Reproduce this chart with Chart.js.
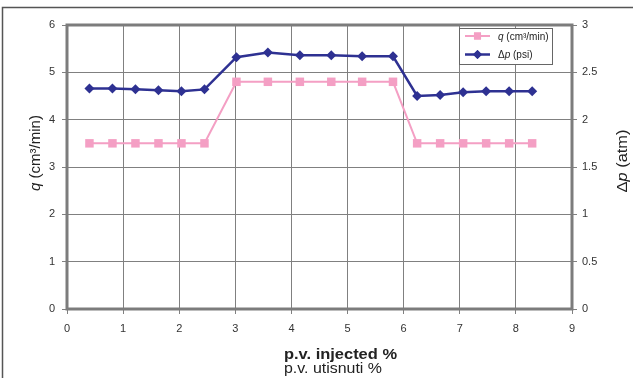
<!DOCTYPE html>
<html>
<head>
<meta charset="utf-8">
<script src="https://cdn.jsdelivr.net/npm/chart.js@4.4.1/dist/chart.umd.min.js"></script>
<style>
  html,body{margin:0;padding:0;background:#fff;}
  #wrap{width:633px;height:378px;position:relative;}
</style>
</head>
<body>
<div id="wrap"><canvas id="c" width="633" height="378"></canvas></div>
<script>
// pore volumes injected (%)
const pvInjected = [0.4,0.81,1.22,1.63,2.04,2.45,3.02,3.58,4.15,4.71,5.26,5.81,6.24,6.65,7.06,7.47,7.88,8.29];
// flow rate q (cm3/min), left axis
const qRate = [3.5,3.5,3.5,3.5,3.5,3.5,4.8,4.8,4.8,4.8,4.8,4.8,3.5,3.5,3.5,3.5,3.5,3.5];
// pressure drop, right axis
const dP = [2.33,2.33,2.32,2.31,2.30,2.32,2.66,2.71,2.68,2.68,2.67,2.67,2.25,2.26,2.29,2.30,2.30,2.30];

const pink = '#f49fc4';
const blue = '#2e3192';
const gridCol = '#808080';
const tickFont = {family:'"Liberation Sans", Arial, sans-serif', size:11};

const toXY = (xs, ys) => xs.map((x,i)=>({x:x, y:ys[i]}));

// text squeezed/stretched to a target length
function fitText(ctx, txt, x, y, w, font){
  ctx.save();
  ctx.font = font;
  const k = w / ctx.measureText(txt).width;
  ctx.translate(x, y);
  ctx.scale(k, 1);
  ctx.textAlign = 'left';
  ctx.fillText(txt, 0, 0);
  ctx.restore();
}

// draws runs of [text, italic?] one after another
function runs(ctx, parts, x, y, size, ff){
  parts.forEach(p=>{
    ctx.font = (p[1] ? 'italic ' : '') + size + 'px ' + ff;
    ctx.fillText(p[0], x, y);
    x += ctx.measureText(p[0]).width;
  });
}
function runsWidth(ctx, parts, size, ff){
  let w = 0;
  parts.forEach(p=>{
    ctx.font = (p[1] ? 'italic ' : '') + size + 'px ' + ff;
    w += ctx.measureText(p[0]).width;
  });
  return w;
}

const decor = {
  id:'decor',
  beforeDraw(chart){
    const ctx = chart.ctx;
    ctx.save();
    ctx.fillStyle = '#fff';
    ctx.fillRect(0,0,chart.width,chart.height);
    ctx.strokeStyle = '#555';
    ctx.lineWidth = 1.5;
    ctx.beginPath();
    ctx.moveTo(2.5, chart.height);
    ctx.lineTo(2.5, 7.5);
    ctx.lineTo(chart.width, 7.5);
    ctx.stroke();
    ctx.restore();
  },
  beforeDatasetsDraw(chart){
    const a = chart.chartArea, ctx = chart.ctx;
    ctx.save();
    ctx.strokeStyle = '#7c7c7c';
    ctx.lineWidth = 3;
    ctx.strokeRect(a.left, a.top, a.right-a.left, a.bottom-a.top);
    ctx.restore();
  },
  afterDraw(chart){
    const ctx = chart.ctx;
    const ff = '"Liberation Sans", Arial, sans-serif';
    ctx.save();
    ctx.fillStyle = '#222';
    ctx.textBaseline = 'alphabetic';

    // left axis title
    const qT = [['q',true],[' (cm³/min)',false]];
    ctx.save();
    ctx.translate(40, 153);
    ctx.rotate(-Math.PI/2);
    runs(ctx, qT, -runsWidth(ctx, qT, 15, ff)/2, 0, 15, ff);
    ctx.restore();

    // right axis title
    const pT = [['Δ',false],['p',true],[' (atm)',false]];
    ctx.save();
    ctx.translate(627, 161);
    ctx.rotate(-Math.PI/2);
    const tot = runsWidth(ctx, pT, 14, ff);
    ctx.scale(63/tot,1);
    runs(ctx, pT, -tot/2, 0, 14, ff);
    ctx.restore();

    // x axis titles
    fitText(ctx, 'p.v. injected %', 284, 359, 113, 'bold 14px ' + ff);
    fitText(ctx, 'p.v. utisnuti %', 284, 373, 98, '14.5px ' + ff);

    // legend box
    ctx.fillStyle = '#fff';
    ctx.fillRect(459.5, 28.5, 93, 36);
    ctx.strokeStyle = '#666';
    ctx.lineWidth = 1;
    ctx.strokeRect(459.5, 28.5, 93, 36);

    const items = [
      {col:pink, style:'rect', r:5, y:36, lw:2, t:[['q',true],[' (cm³/min)',false]]},
      {col:blue, style:'rectRot', r:4.5, y:54.5, lw:2.5, t:[['Δ',false],['p',true],[' (psi)',false]]}
    ];
    items.forEach(it=>{
      ctx.strokeStyle = it.col;
      ctx.lineWidth = it.lw;
      ctx.beginPath();
      ctx.moveTo(465, it.y); ctx.lineTo(490, it.y);
      ctx.stroke();
      ctx.fillStyle = it.col;
      Chart.helpers.drawPoint(ctx, {pointStyle:it.style, radius:it.r, borderWidth:0, rotation:0}, 477.5, it.y);
      ctx.fill();
      ctx.fillStyle = '#222';
      runs(ctx, it.t, 498, it.y+3.5, 10, ff);
    });
    ctx.restore();
  }
};

new Chart(document.getElementById('c'), {
  type:'line',
  data:{
    datasets:[
      {label:'Δp (psi)', data:toXY(pvInjected,dP), yAxisID:'y1', borderColor:blue, backgroundColor:blue,
       borderWidth:2.5, pointStyle:'rectRot', pointRadius:5, pointBorderWidth:0, tension:0},
      {label:'q (cm³/min)', data:toXY(pvInjected,qRate), yAxisID:'y', borderColor:pink, backgroundColor:pink,
       borderWidth:2, pointStyle:'rect', pointRadius:6, pointBorderWidth:0, tension:0}
    ]
  },
  options:{
    responsive:false,
    animation:false,
    layout:{padding:{top:25,left:0,right:0,bottom:0}},
    plugins:{legend:{display:false}, tooltip:{enabled:false}},
    scales:{
      x:{type:'linear', min:0, max:9,
         ticks:{stepSize:1, font:tickFont, color:'#333', padding:8, callback:v=>String(v)},
         grid:{color:gridCol, lineWidth:1, tickLength:5},
         border:{display:false},
         afterFit(s){ s.height = 69; }},
      y:{position:'left', min:0, max:6,
         ticks:{stepSize:1, font:tickFont, color:'#333', padding:7, callback:v=>String(v)},
         grid:{color:gridCol, lineWidth:1, tickLength:5},
         border:{display:false},
         afterFit(s){ s.width = 67; }},
      y1:{position:'right', min:0, max:3,
         ticks:{stepSize:0.5, font:tickFont, color:'#333', padding:5, callback:v=>String(v)},
         grid:{drawOnChartArea:false, color:gridCol, tickLength:5},
         border:{display:false},
         afterFit(s){ s.width = 61; }}
    }
  },
  plugins:[decor]
});
</script>
</body>
</html>
